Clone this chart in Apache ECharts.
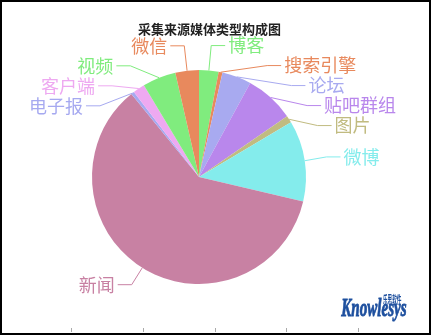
<!DOCTYPE html>
<html>
<head>
<meta charset="utf-8">
<script src="https://cdn.jsdelivr.net/npm/echarts@6/dist/echarts.min.js"></script>
<style>
  html, body { margin: 0; padding: 0; background: #fff; }
  #wrap { position: relative; width: 431px; height: 335px; }
  #chart { position: absolute; left: 0; top: 0; width: 431px; height: 335px; }
  #frame { position: absolute; left: 0; top: 0; width: 431px; height: 335px;
           box-sizing: border-box; border: 2px solid #000; pointer-events: none; }
</style>
</head>
<body>
<div id="wrap">
  <div id="chart"></div>
  <div id="frame"></div>
</div>
<script>
// Media source categories, in drawing order (clockwise from 12 o'clock)
const categories = ['博客', '搜索引擎', '论坛', '贴吧群组', '图片', '微博', '新闻', '电子报', '客户端', '视频', '微信'];
// Collected item counts per source type
const counts = [106, 21, 159, 268, 39, 439, 2176, 17, 65, 182, 128];
// Slice colours
const colors = ['#80ec7e', '#e8895d', '#a8aaf0', '#b987ec', '#c1bb80', '#84ecec', '#c881a3', '#a6a9f0', '#eea9f1', '#80ec7e', '#e8895d'];
// Length of the first leader-line segment for each slice
const leaderLengths = [25, 25, 25, 25, 25, 25, 20, 14, 17, 25, 25];

const chart = echarts.init(document.getElementById('chart'), null, { renderer: 'canvas' });

const pieData = categories.map((name, i) => ({
  name: name,
  value: counts[i],
  itemStyle: { color: colors[i] },
  label: { color: colors[i] },
  labelLine: { length: leaderLengths[i], lineStyle: { color: colors[i] } }
}));

chart.setOption({
  animation: false,
  backgroundColor: '#fff',
  title: {
    text: '采集来源媒体类型构成图',
    left: 133,
    top: 18,
    textStyle: { fontSize: 13, fontWeight: 'bold', color: '#222', fontFamily: 'Noto Sans CJK SC' }
  },
  // decorative tick rows along the bottom and right edges
  grid: [
    { left: -2, right: 1, top: 2, bottom: 3, show: false },
    { left: 0, right: 4, top: 2, bottom: 12, show: false }
  ],
  xAxis: [{
    gridIndex: 0, type: 'value', min: 0, max: 6, interval: 1,
    axisLine: { show: false }, axisLabel: { show: false }, splitLine: { show: false },
    axisTick: { show: true, inside: true, length: 4, lineStyle: { color: '#aaa' } }
  }, {
    gridIndex: 1, type: 'value', show: false
  }],
  yAxis: [{
    gridIndex: 0, type: 'value', show: false
  }, {
    gridIndex: 1, type: 'value', position: 'right', min: 0, max: 18, interval: 1,
    axisLine: { show: false }, axisLabel: { show: false }, splitLine: { show: false },
    axisTick: { show: true, inside: true, length: 2, lineStyle: { color: '#aaa' } }
  }],
  graphic: [
    {
      type: 'text', left: 383, top: 294, scaleX: 0.42,
      style: { text: '乐思软件', font: 'bold 11px "Noto Sans CJK SC"', fill: '#1d4f9e' }
    },
    {
      type: 'text', left: 341, top: 296, scaleX: 0.58,
      style: { text: 'Knowlesys', font: 'italic bold 26px "Liberation Sans Narrow"', fill: '#1d4f9e',
               stroke: '#1d4f9e', lineWidth: 0.9 }
    }
  ],
  series: [{
    type: 'pie',
    center: [199, 177],
    radius: 107,
    startAngle: 90,
    clockwise: true,
    data: pieData,
    itemStyle: { borderWidth: 0 },
    label: {
      show: true,
      position: 'outside',
      fontSize: 18,
      lineHeight: 17,
      fontFamily: 'Noto Sans CJK SC',
      distanceToLabelLine: 3
    },
    labelLine: { show: true, length: 25, length2: 14, lineStyle: { width: 1 } }
  }]
});
</script>
</body>
</html>
